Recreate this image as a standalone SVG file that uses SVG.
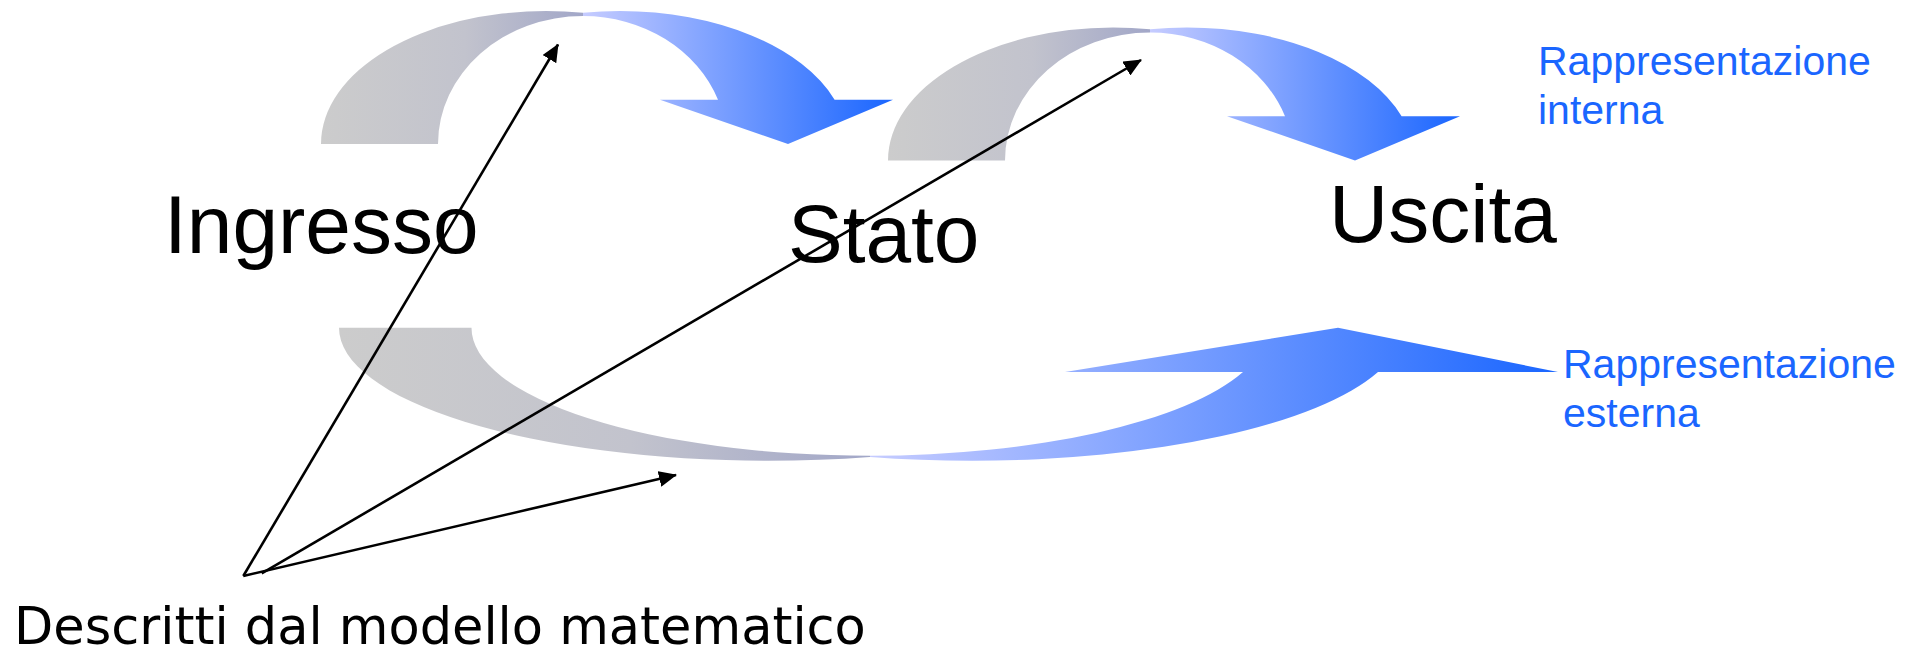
<svg xmlns="http://www.w3.org/2000/svg" xmlns:xlink="http://www.w3.org/1999/xlink" width="1921" height="653" viewBox="0 0 1921 653">
  <style>
    .big { font-family: "Liberation Sans", Arial, sans-serif; font-size: 82px; fill: #000000; }
    .blue { font-family: "Liberation Sans", Arial, sans-serif; font-size: 41px; fill: #1a66ff; }
    .desc { font-family: "DejaVu Sans", Verdana, sans-serif; font-size: 51px; fill: #000000; }
    .conn { stroke: #000000; stroke-width: 2.6; fill: none; marker-end: url(#ah); }
    .back { fill: url(#gBack); }
    .front { fill: url(#gFront); }
  </style>
  <defs>
    <linearGradient id="gBack" x1="0" y1="0" x2="1" y2="0">
      <stop offset="0" stop-color="#cccccc"/>
      <stop offset="0.55" stop-color="#c2c3cd"/>
      <stop offset="1" stop-color="#a2a7c8"/>
    </linearGradient>
    <linearGradient id="gFront" x1="0" y1="0" x2="1" y2="0">
      <stop offset="0" stop-color="#c6ccff"/>
      <stop offset="1" stop-color="#1a66ff"/>
    </linearGradient>
    <marker id="ah" markerUnits="userSpaceOnUse" markerWidth="18" markerHeight="16" refX="17" refY="8" orient="auto">
      <path d="M0,0 L18,8 L0,16 Z" fill="#000000"/>
    </marker>
    <g id="curvedDown">
      <path class="back" d="M321,144 A225,133 0 0 1 546,11 A225,133 0 0 1 583,12.8 L583,16 A145,128 0 0 0 438,144 Z"/>
      <path class="front" d="M583,12.8 A227.5,133 0 0 1 620,11 A227.5,133 0 0 1 834.6,99.7 L893,99.7 L788,144 L660,99.7 L718,99.7 A144,128 0 0 0 583,16 Z"/>
    </g>
  </defs>

  <g id="arrow-interna-1">
    <use xlink:href="#curvedDown" href="#curvedDown"/>
  </g>
  <g id="arrow-interna-2">
    <use xlink:href="#curvedDown" href="#curvedDown" transform="translate(567,16.5)"/>
  </g>
  <g id="arrow-esterna">
    <path class="back" d="M339,327.7 A429,133 0 0 0 768,460.7 A429,133 0 0 0 870,456.9 L870,455.7 A398.5,128 0 0 1 471.5,327.7 Z"/>
    <path class="front" d="M870,456.9 A430,133 0 0 0 972,460.7 A430,133 0 0 0 1378,372 L1558,372 L1338,327.7 L1065,372 L1243,372 A398.5,128 0 0 1 870,455.7 Z"/>
  </g>

  <g id="node-ingresso">
    <text class="big" x="164" y="253">Ingresso</text>
  </g>
  <g id="node-stato">
    <text class="big" x="788" y="262">Stato</text>
  </g>
  <g id="node-uscita">
    <text class="big" x="1329" y="242">Uscita</text>
  </g>
  <g id="label-interna">
    <text class="blue" x="1538" y="75">Rappresentazione</text>
    <text class="blue" x="1538" y="124">interna</text>
  </g>
  <g id="label-esterna">
    <text class="blue" x="1563" y="378">Rappresentazione</text>
    <text class="blue" x="1563" y="427">esterna</text>
  </g>
  <g id="label-descritti">
    <text class="desc" x="14" y="644">Descritti dal modello matematico</text>
  </g>

  <g id="connectors">
    <line class="conn" x1="243.3" y1="576" x2="558" y2="44.5"/>
    <line class="conn" x1="261.7" y1="573.3" x2="1141" y2="60"/>
    <line class="conn" x1="243.3" y1="576" x2="676" y2="475"/>
  </g>
</svg>
